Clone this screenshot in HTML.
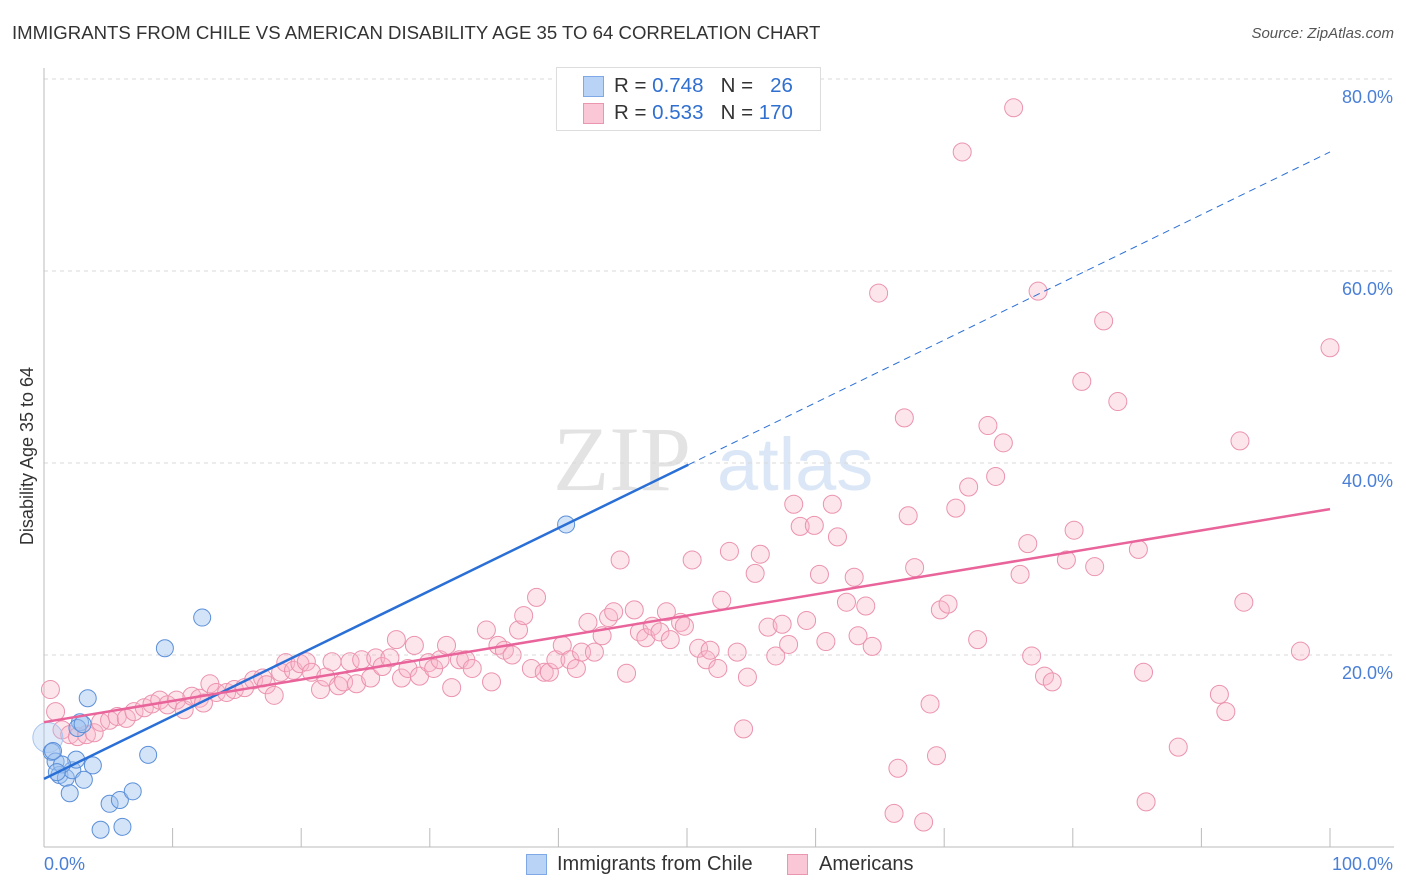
<!DOCTYPE html>
<html><head><meta charset="utf-8">
<style>
body{margin:0;width:1406px;height:892px;background:#fff;font-family:"Liberation Sans",sans-serif;overflow:hidden;position:relative}
.t{position:absolute;white-space:nowrap}
</style></head><body>
<div class="t" style="left:12px;top:22px;font-size:18.6px;color:#333">IMMIGRANTS FROM CHILE VS AMERICAN DISABILITY AGE 35 TO 64 CORRELATION CHART</div>
<div class="t" style="right:12px;top:25px;font-size:15px;color:#555;font-style:italic">Source: ZipAtlas.com</div>
<svg id="chart" width="1406" height="892" style="position:absolute;left:0;top:0"></svg>
<script>
const xTicks=[0,10,20,30,40,50,60,70,80,90,100];
const yTicks=[20,40,60,80];
const yTickLabels=["20.0%","40.0%","60.0%","80.0%"];
const xTickLabels=["0.0%","100.0%"];
const chileX=[0.3,0.6,0.9,1.2,1.7,2.2,2.0,2.5,3.1,3.4,2.8,3.8,4.4,5.1,5.9,6.1,6.9,8.1,9.4,12.3,40.6,1.4,0.7,1.0,2.6,3.0];
const chileY=[11.4,9.9,8.9,7.5,7.2,8.0,5.6,9.1,7.0,15.5,13.0,8.5,1.8,4.5,4.9,2.1,5.8,9.6,20.7,23.9,33.6,8.6,10.0,7.8,12.4,12.8];
const amerX=[0.5,0.9,1.4,2.0,2.6,3.3,3.9,4.4,5.1,5.7,6.4,7.0,7.8,8.4,9.0,9.6,10.3,10.9,11.5,12.1,12.4,12.9,13.4,14.2,14.8,15.6,16.3,17.0,17.3,17.9,18.4,18.8,19.4,19.9,20.4,20.8,21.5,21.9,22.4,22.9,23.3,23.8,24.3,24.7,25.4,25.8,26.3,26.9,27.4,27.8,28.3,28.8,29.2,29.9,30.3,30.8,31.3,31.7,32.3,32.8,33.3,34.4,34.8,35.3,35.8,36.4,36.9,37.3,37.9,38.3,38.9,39.3,39.8,40.3,40.9,41.4,41.8,42.3,42.8,43.4,43.9,44.3,44.8,45.3,45.9,46.3,46.8,47.3,47.9,48.4,48.7,49.5,49.8,50.4,50.9,51.5,51.8,52.4,52.7,53.3,53.9,54.4,54.7,55.3,55.7,56.3,56.9,57.4,57.9,58.3,58.8,59.3,59.9,60.3,60.8,61.3,61.7,62.4,63.0,63.3,63.9,64.4,64.9,66.1,66.4,66.9,67.2,67.7,68.4,68.9,69.4,69.7,70.3,70.9,71.4,71.9,72.6,73.4,74.0,74.6,75.4,75.9,76.5,76.8,77.3,77.8,78.4,79.5,80.1,80.7,81.7,82.4,83.5,85.1,85.5,85.7,88.2,91.4,91.9,93.0,93.3,97.7,100];
const amerY=[16.4,14.1,12.2,11.7,11.5,11.7,11.9,13.0,13.2,13.6,13.4,14.1,14.5,14.9,15.3,14.8,15.3,14.3,15.7,15.5,15.0,17.0,16.1,16.1,16.4,16.6,17.4,17.6,16.9,15.8,18.2,19.2,18.4,19.1,19.3,18.2,16.4,17.7,19.3,16.8,17.2,19.3,17.0,19.5,17.6,19.7,18.8,19.7,21.6,17.6,18.6,21.0,17.8,19.2,18.6,19.5,21.0,16.6,19.5,19.5,18.6,22.6,17.2,21.0,20.5,20.0,22.6,24.1,18.6,26.0,18.2,18.2,19.5,21.0,19.5,18.6,20.3,23.4,20.3,22.0,23.9,24.5,29.9,18.1,24.7,22.4,21.8,23.0,22.4,24.5,21.6,23.4,23.0,29.9,20.7,19.5,20.5,18.6,25.7,30.8,20.3,12.3,17.7,28.5,30.5,22.9,19.9,23.2,21.1,35.7,33.4,23.6,33.5,28.4,21.4,35.7,32.3,25.5,28.1,22.0,25.1,20.9,57.7,3.5,8.2,44.7,34.5,29.1,2.6,14.9,9.5,24.7,25.3,35.3,72.4,37.5,21.6,43.9,38.6,42.1,77.0,28.4,31.6,19.9,57.9,17.8,17.2,29.9,33.0,48.5,29.2,54.8,46.4,31.0,18.2,4.7,10.4,15.9,14.1,42.3,25.5,20.4,52.0];
const chileTrend=[7.1,0.653];
const amerTrend=[13.0,0.222];
const svg=document.getElementById('chart');const NS='http://www.w3.org/2000/svg';
const X=v=>44+v*12.86, Y=v=>847-v*9.6;
function mk(t,a){const e=document.createElementNS(NS,t);for(const k in a)e.setAttribute(k,a[k]);svg.appendChild(e);return e;}
let w=mk('text',{x:553,y:490,'font-size':92,'font-family':'Liberation Serif, serif',fill:'#e3e3e3'});w.textContent='ZIP';


let w2=mk('text',{x:717,y:490,'font-size':74,'font-family':'Liberation Sans, sans-serif',fill:'#dbe7f7'});w2.textContent='atlas';


yTicks.forEach((v,i)=>{
 const g=mk('line',{x1:44,x2:1394,y1:Y(v),y2:Y(v),stroke:'#d8d8d8','stroke-dasharray':'4,4'});
 
 
 const t=mk('text',{x:1393,y:Y(v)+24,'text-anchor':'end','font-size':18,fill:'#4a7fd6'});t.textContent=yTickLabels[i];
 
 
});
const ax=mk('line',{x1:44,x2:44,y1:68,y2:847,stroke:'#bbb'});


const bx=mk('line',{x1:44,x2:1394,y1:847,y2:847,stroke:'#bbb'});


xTicks.forEach(v=>{const l=mk('line',{x1:X(v),x2:X(v),y1:828,y2:847,stroke:'#bbb'});
 
 });
let xl=mk('text',{x:44,y:870,'font-size':18,fill:'#4a7fd6'});xl.textContent=xTickLabels[0];


let xr=mk('text',{x:1393,y:870,'text-anchor':'end','font-size':18,fill:'#4a7fd6'});xr.textContent=xTickLabels[1];


let yt=mk('text',{x:0,y:0,'font-size':18,fill:'#333','text-anchor':'middle',transform:'translate(33,456) rotate(-90)'});yt.textContent='Disability Age 35 to 64';


amerX.forEach((x,i)=>{const c=mk('circle',{cx:X(x),cy:Y(amerY[i]),r:9,fill:'rgba(248,180,200,0.35)',stroke:'#eb93ae','stroke-width':1});
 
 });
chileX.forEach((x,i)=>{const c=mk('circle',{cx:X(x),cy:Y(chileY[i]),r:i==0?15:8.5,fill:i==0?'rgba(170,200,240,0.35)':'rgba(160,196,240,0.45)',stroke:i==0?'#a8c4ee':'#5b8fd9','stroke-width':1});
 
 });
const xe=50.1;
let l1=mk('line',{x1:X(0),y1:Y(chileTrend[0]),x2:X(xe),y2:Y(chileTrend[0]+chileTrend[1]*xe),stroke:'#2a6fd6','stroke-width':2.5});


let l2=mk('line',{x1:X(xe),y1:Y(chileTrend[0]+chileTrend[1]*xe),x2:X(100),y2:Y(chileTrend[0]+chileTrend[1]*100),stroke:'#2a6fd6','stroke-width':1,'stroke-dasharray':'7,5'});


let l3=mk('line',{x1:X(0),y1:Y(amerTrend[0]),x2:X(100),y2:Y(amerTrend[0]+amerTrend[1]*100),stroke:'#e8649a','stroke-width':2.5});


</script>
<div style="position:absolute;left:556px;top:67px;width:263px;height:62px;border:1px solid #ddd;background:#fff;font-size:20.5px;color:#333">
 <div style="position:absolute;left:26px;top:8px;width:19px;height:19px;background:#b9d3f7;border:1px solid #7ea9e6"></div>
 <div class="t" style="left:57px;top:6px">R = <span style="color:#2f6fd0">0.748</span>&nbsp;&nbsp;&nbsp;N = &nbsp;&nbsp;<span style="color:#2f6fd0">26</span></div>
 <div style="position:absolute;left:26px;top:35px;width:19px;height:19px;background:#f9c7d6;border:1px solid #ea96b0"></div>
 <div class="t" style="left:57px;top:33px">R = <span style="color:#2f6fd0">0.533</span>&nbsp;&nbsp;&nbsp;N = <span style="color:#2f6fd0">170</span></div>
</div>
<div style="position:absolute;left:526px;top:853px;font-size:20px;color:#333">
 <div style="position:absolute;left:0;top:1px;width:19px;height:19px;background:#b9d3f7;border:1px solid #7ea9e6"></div>
 <div class="t" style="left:31px;top:0">Immigrants from Chile</div></div>
<div style="position:absolute;left:787px;top:853px;font-size:20px;color:#333">
 <div style="position:absolute;left:0;top:1px;width:19px;height:19px;background:#f9c7d6;border:1px solid #ea96b0"></div>
 <div class="t" style="left:32px;top:0">Americans</div></div>
</body></html>
